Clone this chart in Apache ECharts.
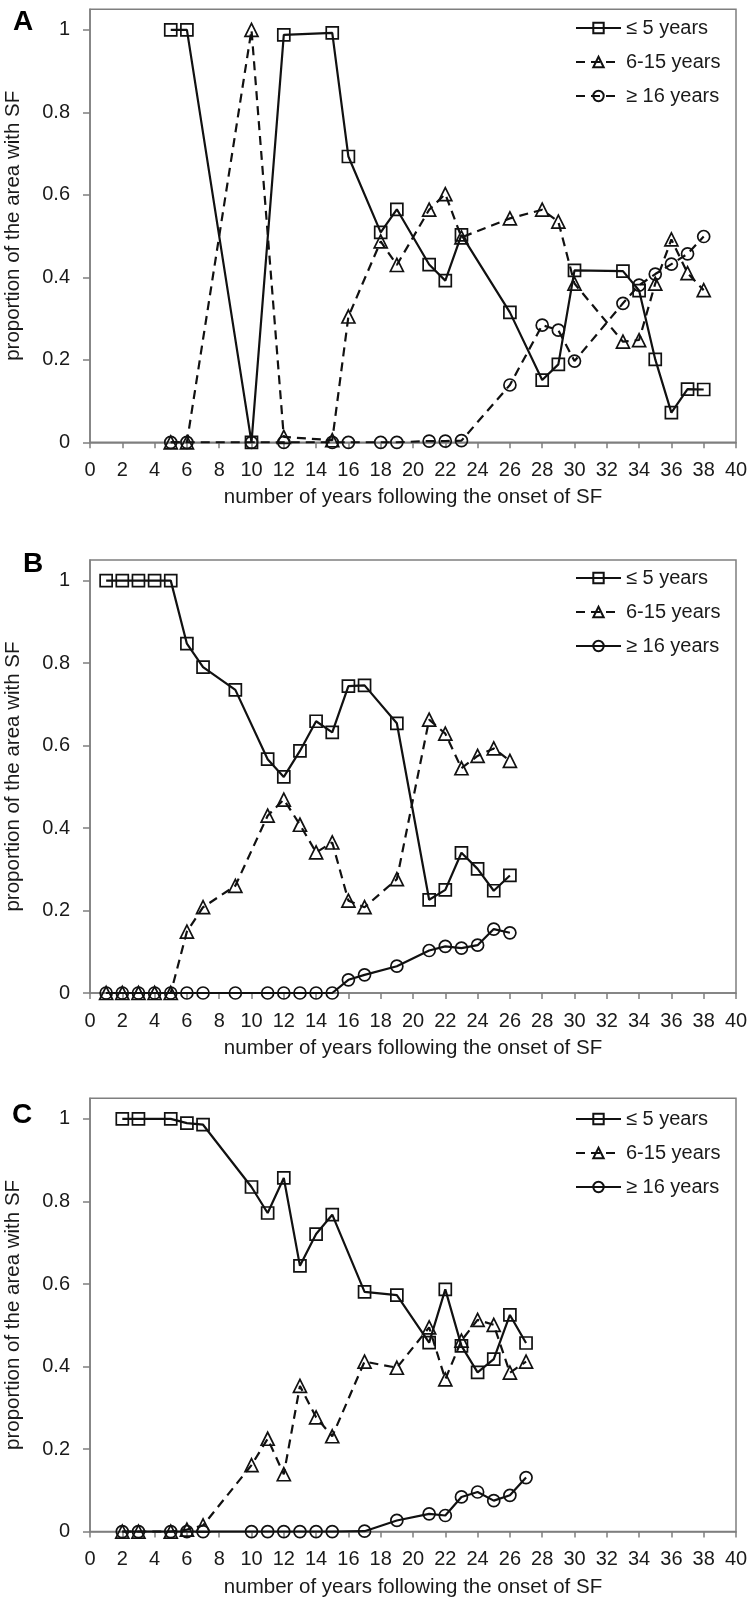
<!DOCTYPE html>
<html><head><meta charset="utf-8">
<script src="https://cdn.jsdelivr.net/npm/echarts@6/dist/echarts.min.js"></script>
<style>html,body{margin:0;padding:0;background:#fff}#c{width:754px;height:1604px}</style>
</head><body><div id="c"></div>
<script>
const seriesNames = ['≤ 5 years', '6-15 years', '≥ 16 years'];
const panelLabels = ['A', 'B', 'C'];
const xTickLabels = [0,2,4,6,8,10,12,14,16,18,20,22,24,26,28,30,32,34,36,38,40];
const yTickLabels = [0,0.2,0.4,0.6,0.8,1];
const xAxisTitle = 'number of years following the onset of SF';
const yAxisTitle = 'proportion of the area with SF';

const xA = [5,6,10,12,15,16,18,19,21,22,23,26,28,29,30,33,34,35,36,37,38];
const aLe5 = [1.0,1.0,0,0.988,0.993,0.693,0.509,0.565,0.431,0.392,0.503,0.315,0.151,0.189,0.417,0.415,0.368,0.201,0.072,0.129,0.128];
const a6to15 = [0,0,1.0,0.013,0.005,0.305,0.487,0.430,0.564,0.602,0.497,0.543,0.564,0.535,0.385,0.244,0.248,0.385,0.492,0.410,0.369];
const aGe16 = [0,0,0,0,0,0,0,0,0.003,0.003,0.004,0.139,0.284,0.272,0.197,0.337,0.381,0.408,0.432,0.457,0.499];

const xB = [1,2,3,4,5,6,7,9,11,12,13,14,15,16,17,19,21,22,23,24,25,26];
const bLe5 = [1,1,1,1,1,0.847,0.790,0.735,0.567,0.524,0.587,0.659,0.632,0.744,0.746,0.654,0.226,0.250,0.340,0.301,0.248,0.285];
const b6to15 = [0,0,0,0,0,0.149,0.208,0.260,0.430,0.469,0.408,0.341,0.365,0.224,0.208,0.276,0.663,0.629,0.545,0.575,0.593,0.563];
const bGe16 = [0,0,0,0,0,0,0,0,0,0,0,0,0,0.032,0.044,0.065,0.103,0.113,0.109,0.116,0.155,0.146];

const xC = [2,3,5,6,7,10,11,12,13,14,15,17,19,21,22,23,24,25,26,27];
const cLe5 = [1,1,1,0.990,0.986,0.835,0.772,0.857,0.644,0.721,0.768,0.581,0.573,0.458,0.587,0.450,0.386,0.418,0.525,0.457];
const c6to15 = [0,0,0,0.005,0.015,0.161,0.225,0.139,0.353,0.277,0.231,0.412,0.397,0.495,0.369,0.463,0.513,0.501,0.385,0.412];
const cGe16 = [0,0,0,0,0,0,0,0,0,0,0,0.001,0.027,0.043,0.039,0.084,0.096,0.075,0.088,0.131];

const panels = [
  {x: xA, ys: [aLe5, a6to15, aGe16], dashed16: true},
  {x: xB, ys: [bLe5, b6to15, bGe16], dashed16: false},
  {x: xC, ys: [cLe5, c6to15, cGe16], dashed16: false}
];

const FONT = 'Liberation Sans, Arial, sans-serif';
const TXT = '#1a1a1a';
const GRAY = '#7f7f7f';
const INK = '#111';
const gridTops = [9.3, 560, 1098.3];
const gridH = [433, 433, 433.3];
const labelPos = [{left: 13, top: 8}, {left: 23, top: 550}, {left: 12, top: 1101}];
const legendTops = [18, 568, 1109];
const symbols = ['rect', 'triangle', 'circle'];

const grid = [], xAxis = [], yAxis = [], series = [], legend = [], title = [];
panels.forEach((p, i) => {
  grid.push({left: 90, top: gridTops[i], width: 646, height: gridH[i], show: true,
    borderColor: GRAY, borderWidth: 1.5, backgroundColor: 'transparent',
    containLabel: false, outerBoundsMode: 'none'});
  xAxis.push({type: 'value', gridIndex: i, min: 0, max: 40, interval: 2,
    axisLine: {onZero: false, lineStyle: {color: GRAY, width: 1.5}},
    axisTick: {show: true, length: 6, lineStyle: {color: GRAY, width: 1.5}},
    axisLabel: {color: TXT, fontFamily: FONT, fontSize: 20, margin: 18,
      customValues: xTickLabels},
    splitLine: {show: false},
    name: xAxisTitle, nameLocation: 'middle', nameGap: 45,
    nameTextStyle: {color: TXT, fontFamily: FONT, fontSize: 20.5}});
  yAxis.push({type: 'value', gridIndex: i, min: 0, max: 1.05,
    axisLine: {show: true, lineStyle: {color: GRAY, width: 1.5}},
    axisTick: {show: true, length: 7, customValues: yTickLabels, lineStyle: {color: GRAY, width: 1.5}},
    axisLabel: {color: TXT, fontFamily: FONT, fontSize: 20, margin: 20, customValues: yTickLabels},
    splitLine: {show: false},
    name: yAxisTitle, nameLocation: 'middle', nameGap: 66, nameRotate: 90,
    nameTextStyle: {color: TXT, fontFamily: FONT, fontSize: 20.5}});
  title.push({text: panelLabels[i], left: labelPos[i].left, top: labelPos[i].top, padding: 0,
    textStyle: {fontFamily: FONT, fontWeight: 'bold', fontSize: 28, color: '#000'}});
  const names = seriesNames.map(n => panelLabels[i] + '|' + n);
  legend.push({data: names, orient: 'vertical', left: 575, top: legendTops[i], padding: 0,
    itemWidth: 45, itemHeight: 13, itemGap: 14, selectedMode: false,
    formatter: n => n.split('|')[1],
    textStyle: {color: TXT, fontFamily: FONT, fontSize: 20}});
  p.ys.forEach((ys, k) => {
    const dashed = (k === 1) || (k === 2 && p.dashed16);
    series.push({type: 'line', name: names[k], xAxisIndex: i, yAxisIndex: i,
      data: p.x.map((xv, j) => [xv, ys[j]]),
      symbol: symbols[k], symbolSize: k === 1 ? 13 : 12, showSymbol: true,
      lineStyle: {color: INK, width: 2.2, type: dashed ? [9, 6] : 'solid'},
      itemStyle: {color: 'rgba(0,0,0,0)', borderColor: INK, borderWidth: 1.7},
      emphasis: {disabled: true}, animation: false});
  });
});

const chart = echarts.init(document.getElementById('c'), null, {renderer: 'canvas'});
chart.setOption({animation: false, backgroundColor: '#fff', title, grid, xAxis, yAxis, legend, series});
</script></body></html>
